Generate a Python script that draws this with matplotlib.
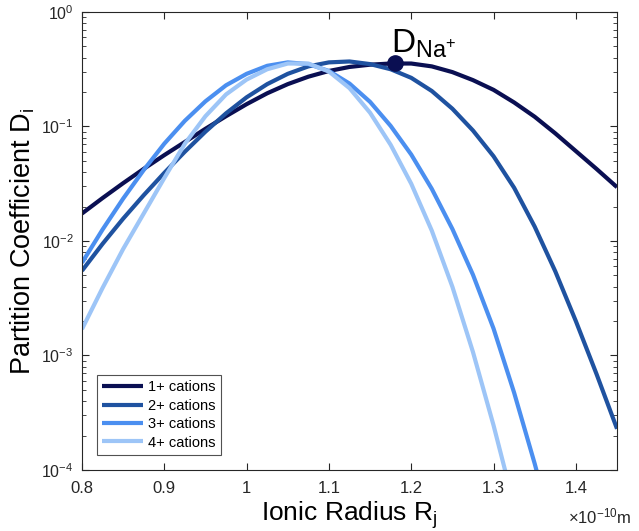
import numpy as np
import matplotlib
matplotlib.use("Agg")
import matplotlib.pyplot as plt

plt.rcParams['font.family'] = ['Liberation Sans', 'DejaVu Sans']
plt.rcParams['mathtext.fontset'] = 'custom'
plt.rcParams['mathtext.rm'] = 'Liberation Sans'
plt.rcParams['mathtext.it'] = 'Liberation Sans:italic'
plt.rcParams['mathtext.sf'] = 'Liberation Sans'

# ionic radius (x 1e-10 m)
radius = [0.800, 0.825, 0.850, 0.875, 0.900, 0.925, 0.950, 0.975, 1.000,
          1.025, 1.050, 1.075, 1.100, 1.125, 1.150, 1.175, 1.200, 1.225,
          1.250, 1.275, 1.300, 1.325, 1.350, 1.375, 1.400, 1.425, 1.450]

# log10 of partition coefficient
logD_1 = [-1.76, -1.625, -1.495, -1.37, -1.25, -1.135, -1.02, -0.91, -0.805,
          -0.71, -0.63, -0.565, -0.515, -0.48, -0.46, -0.45, -0.45, -0.475,
          -0.525, -0.595, -0.68, -0.79, -0.915, -1.06, -1.215, -1.37, -1.53]
logD_2 = [-2.26, -2.025, -1.805, -1.60, -1.405, -1.22, -1.045, -0.885, -0.745,
          -0.63, -0.54, -0.475, -0.44, -0.432, -0.455, -0.50, -0.575, -0.69,
          -0.845, -1.035, -1.26, -1.535, -1.875, -2.265, -2.70, -3.16, -3.64]
logD_3 = [-2.19, -1.90, -1.63, -1.38, -1.15, -0.95, -0.78, -0.64, -0.54,
          -0.47, -0.44, -0.455, -0.515, -0.625, -0.785, -0.995, -1.245, -1.545,
          -1.895, -2.295, -2.765, -3.325, -3.945, -4.615]
logD_4 = [-2.77, -2.41, -2.07, -1.76, -1.45, -1.15, -0.91, -0.72, -0.59,
          -0.50, -0.45, -0.45, -0.52, -0.665, -0.88, -1.16, -1.50, -1.91,
          -2.40, -2.97, -3.61, -4.31]

labels = ['1+ cations', '2+ cations', '3+ cations', '4+ cations']
colors = ['#0a0f52', '#1f52a0', '#4b8ff0', '#9dc5f7']

na_radius = 1.18
na_D = 0.357

fig = plt.figure(figsize=(6.39, 5.31), dpi=100)
ax = fig.add_axes([0.1283, 0.1149, 0.8373, 0.8625])

for logD, lab, col in zip([logD_1, logD_2, logD_3, logD_4], labels, colors):
    ax.plot(radius[:len(logD)], 10 ** np.array(logD), color=col, linewidth=3,
            label=lab, solid_joinstyle='round', solid_capstyle='butt')

ax.plot([na_radius], [na_D], 'o', color='#0a0f52', markersize=11, zorder=5)
ax.text(na_radius - 0.004, 0.44, r'D$_{\mathregular{Na}^{+}}$', fontsize=24,
        ha='left', va='baseline', color='black')

ax.set_yscale('log')
ax.set_xlim(0.8, 1.45)
ax.set_ylim(1e-4, 1)
ax.set_xticks([0.8, 0.9, 1.0, 1.1, 1.2, 1.3, 1.4])
ax.set_xticklabels(['0.8', '0.9', '1', '1.1', '1.2', '1.3', '1.4'])
ax.tick_params(which='both', direction='in', top=True, right=True,
               labelsize=12, colors='#262626', labelcolor='#262626')
ax.tick_params(axis='y', labelsize=11.5)
ax.tick_params(which='major', length=5, pad=6)
ax.tick_params(axis='x', which='major', pad=8)
ax.tick_params(which='minor', length=3)
ax.tick_params(axis='x', which='minor', bottom=False, top=False)
for sp in ax.spines.values():
    sp.set_color('#262626')
    sp.set_linewidth(0.8)

ax.set_xlabel(r'Ionic Radius R$_{\mathregular{j}}$', fontsize=19, labelpad=2)
ax.set_ylabel(r'Partition Coefficient D$_{\mathregular{i}}$', fontsize=19.5, labelpad=3)
fig.text(0.889, 0.015, r'$\times$10$^{\mathregular{-10}}$m', fontsize=12,
         color='#262626', va='baseline')

leg = ax.legend(loc='lower left', fontsize=10.5, frameon=True, fancybox=False,
                edgecolor='#262626', handlelength=2.8, labelspacing=0.3,
                borderaxespad=1.0, handletextpad=0.3, borderpad=0.4)
leg.get_frame().set_linewidth(0.8)

plt.savefig('out.png', dpi=100)
